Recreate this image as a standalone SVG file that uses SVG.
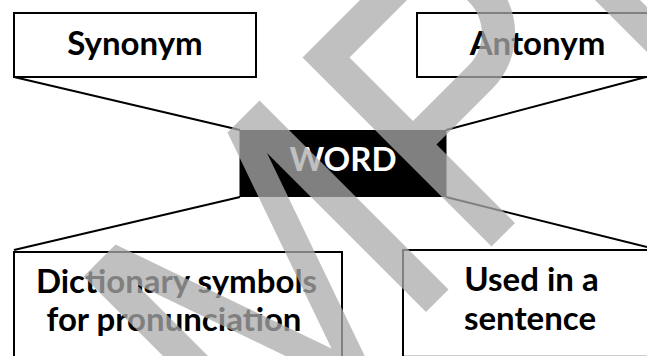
<svg xmlns="http://www.w3.org/2000/svg" width="647" height="356" viewBox="0 0 647 356">
  <style>
    .box { fill: #ffffff; stroke: #000000; stroke-width: 2; }
    .hub { fill: #000000; stroke: none; }
    .lbl { font-family: Lato, "Open Sans", "DejaVu Sans", sans-serif; font-weight: bold; font-size: 33px; text-anchor: middle; fill: #000000; }
    .hub-lbl { fill: #ffffff; }
    .link { stroke: #000000; stroke-width: 2; fill: none; }
    .mark { fill: #ababab; }
  </style>

  <!-- connectors between the outer boxes and the central word -->
  <g id="connectors">
    <line class="link" x1="14" y1="77" x2="240" y2="130"/>
    <line class="link" x1="646" y1="77" x2="446" y2="130"/>
    <line class="link" x1="240" y1="197" x2="14" y2="250"/>
    <line class="link" x1="446" y1="197" x2="647" y2="247"/>
  </g>

  <g id="synonym">
    <rect class="box" x="14" y="13" width="242" height="64"/>
    <text class="lbl" x="135" y="55">Synonym</text>
  </g>

  <g id="antonym">
    <rect class="box" x="417" y="13" width="242" height="64"/>
    <text class="lbl" x="537.5" y="55">Antonym</text>
  </g>

  <g id="word">
    <rect class="hub" x="239.5" y="130" width="207" height="67"/>
    <text class="lbl hub-lbl" x="343" y="171">WORD</text>
  </g>

  <g id="dictionary-symbols">
    <rect class="box" x="14" y="252" width="328" height="120"/>
    <text class="lbl" x="176.5" y="293">Dictionary symbols</text>
    <text class="lbl" x="174" y="331">for pronunciation</text>
  </g>

  <g id="used-in-sentence">
    <rect class="box" x="403" y="250" width="260" height="106.8"/>
    <text class="lbl" x="531.5" y="291">Used in a</text>
    <text class="lbl" x="530" y="330">sentence</text>
  </g>

  <!-- diagonal stamp laid over the whole sheet, drawn in a 45-degree frame -->
  <g id="stamp" opacity="0.75" transform="matrix(0.5 -0.5 0.5 0.5 0 0)">
    <path class="mark" d="M -193,360 H -129 L -17,680 L 95,360 H 159 V 738 H 114 V 420 L 2.7,738 H -36.7 L -148,420 V 738 H -193 Z"/>
    <path class="mark" fill-rule="evenodd" d="M 245,360 H 403.5 A 110.5 110.5 0 0 1 403.5,581 H 292 V 738 H 245 Z M 292,407 H 403.5 A 63.5 63.5 0 0 1 403.5,534 H 292 Z"/>
    <rect class="mark" x="595" y="360" width="45" height="378"/>
  </g>
</svg>
